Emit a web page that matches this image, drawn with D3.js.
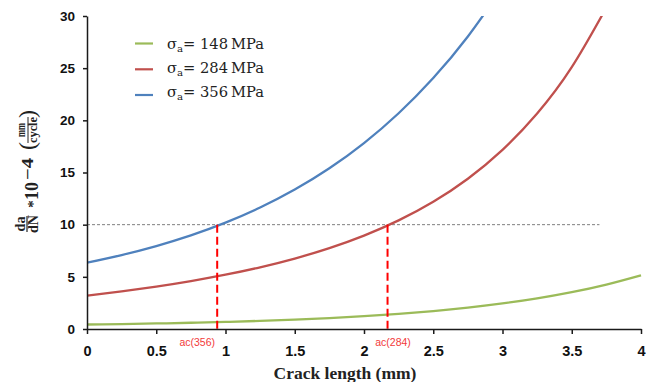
<!DOCTYPE html>
<html>
<head>
<meta charset="utf-8">
<script src="https://cdn.jsdelivr.net/npm/d3@7/dist/d3.min.js"></script>
<style>
  html, body { margin: 0; padding: 0; background: #fff; }
  svg { display: block; }
</style>
</head>
<body>
<svg id="chart" width="661" height="382"></svg>
<script>
// ---------- data ----------
const crackLength = [0, 0.25, 0.5, 0.75, 1.0, 1.25, 1.5, 1.75, 2.0, 2.25, 2.5, 2.75, 3.0, 3.25, 3.5, 3.75, 4.0];
const rate148 = [0.43, 0.475, 0.53, 0.597, 0.679, 0.778, 0.90, 1.048, 1.229, 1.45, 1.719, 2.048, 2.449, 2.938, 3.535, 4.263, 5.151];
const rate284 = [3.19, 3.60, 4.063, 4.592, 5.203, 5.915, 6.754, 7.752, 8.952, 10.408, 12.194, 14.405, 17.168, 20.655, 25.098, 30.81];
const rate356 = [6.36, 7.09, 7.95, 8.97, 10.19, 11.64, 13.36, 15.40, 17.82, 20.68, 24.06, 28.04, 32.72];
const seriesNames = ["148", "284", "356"];
const xTickValues = [0, 0.5, 1, 1.5, 2, 2.5, 3, 3.5, 4];
const xTickLabels = ["0", "0.5", "1", "1.5", "2", "2.5", "3", "3.5", "4"];
const yTickValues = [0, 5, 10, 15, 20, 25, 30];
const thresholdRate = 10;
const thresholdEnd = 3.70;
const criticalLengths = [0.94, 2.17];
const criticalLabels = ["ac(356)", "ac(284)"];

// ---------- layout ----------
const svg = d3.select("#chart");
const colors = { "148": "#9BBB59", "284": "#C0504D", "356": "#4F81BD" };
const x = d3.scaleLinear().domain([0, 4]).range([87, 641]);
const y = d3.scaleLinear().domain([0, 30]).range([329, 16]);
const serif = "Liberation Serif, Times New Roman, serif";
const sans = "Liberation Sans, Arial, sans-serif";

const series = [
  { name: "148", pts: rate148.map((v, i) => [crackLength[i], v]) },
  { name: "284", pts: rate284.map((v, i) => [crackLength[i], v]) },
  { name: "356", pts: rate356.map((v, i) => [crackLength[i], v]) }
];

svg.append("defs").append("clipPath").attr("id", "plotclip")
  .append("rect").attr("x", x(0)).attr("y", y(30))
  .attr("width", x(4) - x(0) + 3).attr("height", y(0) - y(30));

// threshold dashed gray line
svg.append("line")
  .attr("x1", x(0)).attr("x2", x(thresholdEnd))
  .attr("y1", y(thresholdRate)).attr("y2", y(thresholdRate))
  .attr("stroke", "#7f7f7f").attr("stroke-width", 1)
  .attr("stroke-dasharray", "3,2");

// curves
const line = d3.line().x(d => x(d[0])).y(d => y(d[1])).curve(d3.curveNatural);
svg.append("g").attr("clip-path", "url(#plotclip)")
  .selectAll("path.series").data(series).enter().append("path")
  .attr("class", "series")
  .attr("d", d => line(d.pts))
  .attr("fill", "none")
  .attr("stroke", d => colors[d.name])
  .attr("stroke-width", 2.3);

// critical crack length red dashed lines
const labelShift = [-20, 5.5];
criticalLengths.forEach((c, i) => {
  svg.append("line")
    .attr("x1", x(c)).attr("x2", x(c))
    .attr("y1", y(thresholdRate)).attr("y2", y(0))
    .attr("stroke", "#FF0000").attr("stroke-width", 2)
    .attr("stroke-dasharray", "8,4");
  svg.append("text")
    .attr("x", x(c) + labelShift[i]).attr("y", 346)
    .attr("text-anchor", "middle")
    .attr("font-family", sans)
    .attr("font-size", 10.5)
    .attr("fill", "#F23A3A")
    .text(criticalLabels[i]);
});

// axes
const xAxis = d3.axisBottom(x).tickValues(xTickValues)
  .tickFormat((d, i) => xTickLabels[i]).tickSize(5).tickSizeOuter(0).tickPadding(12);
const gx = svg.append("g").attr("transform", `translate(0,${y(0)})`).call(xAxis);
gx.selectAll("text").attr("font-family", sans)
  .attr("font-weight", "bold").attr("font-size", 14.5).attr("fill", "#111");

const yAxis = d3.axisLeft(y).tickValues(yTickValues).tickSize(4).tickSizeOuter(0).tickPadding(8);
const gy = svg.append("g").attr("transform", `translate(${x(0)},0)`).call(yAxis);
gy.selectAll("text").attr("font-family", sans)
  .attr("font-weight", "bold").attr("font-size", 13.5).attr("fill", "#111");

[gx, gy].forEach(g => {
  g.select(".domain").attr("stroke", "#1a1a1a").attr("stroke-width", 1.5);
  g.selectAll(".tick line").attr("stroke", "#1a1a1a").attr("stroke-width", 1.5);
});

// x axis title
svg.append("text")
  .attr("x", 345).attr("y", 379)
  .attr("text-anchor", "middle")
  .attr("font-family", serif)
  .attr("font-weight", "bold").attr("font-size", 17.5)
  .attr("fill", "#222")
  .text("Crack length (mm)");

// y axis title (rotated composite)
const yl = svg.append("g").attr("transform", "translate(27,0) rotate(-90)")
  .attr("font-family", serif)
  .attr("font-weight", "bold").attr("fill", "#222");
yl.append("text").attr("x", -224).attr("y", -2.5).attr("text-anchor", "middle")
  .attr("font-size", 14).text("da");
yl.append("line").attr("x1", -232).attr("x2", -216).attr("y1", 0).attr("y2", 0)
  .attr("stroke", "#222").attr("stroke-width", 1.2);
yl.append("text").attr("x", -224).attr("y", 10.5).attr("text-anchor", "middle")
  .attr("font-size", 14).text("dN");
yl.append("text").attr("x", -204).attr("y", 11).attr("text-anchor", "middle")
  .attr("font-size", 15).text("*");
yl.append("text").attr("x", -200).attr("y", 10.5).attr("text-anchor", "start")
  .attr("font-size", 19).attr("textLength", 18).attr("lengthAdjust", "spacingAndGlyphs").text("10");
yl.append("text").attr("x", -180).attr("y", 5.5).attr("text-anchor", "start")
  .attr("font-size", 16).attr("textLength", 22).attr("lengthAdjust", "spacingAndGlyphs").text("\u22124");
yl.append("text").attr("x", -150).attr("y", 7.5).attr("text-anchor", "start")
  .attr("font-size", 24).attr("font-weight", "normal").text("(");
yl.append("text").attr("x", -130).attr("y", -2).attr("text-anchor", "middle")
  .attr("font-size", 11.5).attr("textLength", 14).attr("lengthAdjust", "spacingAndGlyphs").text("mm");
yl.append("line").attr("x1", -143).attr("x2", -117).attr("y1", 1).attr("y2", 1)
  .attr("stroke", "#222").attr("stroke-width", 1);
yl.append("text").attr("x", -130).attr("y", 10).attr("text-anchor", "middle")
  .attr("font-size", 12).attr("textLength", 26).attr("lengthAdjust", "spacingAndGlyphs").text("cycle");
yl.append("text").attr("x", -118).attr("y", 7.5).attr("text-anchor", "start")
  .attr("font-size", 24).attr("font-weight", "normal").text(")");

// legend
const legendLineY = [43.5, 69.3, 95];
const legendTextY = [49.3, 73.3, 96.5];
seriesNames.forEach((n, i) => {
  svg.append("line")
    .attr("x1", 135).attr("x2", 153)
    .attr("y1", legendLineY[i]).attr("y2", legendLineY[i])
    .attr("stroke", colors[n]).attr("stroke-width", 2.2);
  const t = svg.append("text")
    .attr("x", 167).attr("y", legendTextY[i])
    .attr("font-family", "DejaVu Serif, serif")
    .attr("font-size", 14.5).attr("fill", "#222")
    .attr("textLength", 97).attr("lengthAdjust", "spacingAndGlyphs");
  t.append("tspan").text("\u03C3");
  t.append("tspan").attr("font-size", 10).attr("dy", 3).text("a");
  t.append("tspan").attr("dy", -3).text("= " + n + "\u2009MPa");
});
</script>
</body>
</html>
